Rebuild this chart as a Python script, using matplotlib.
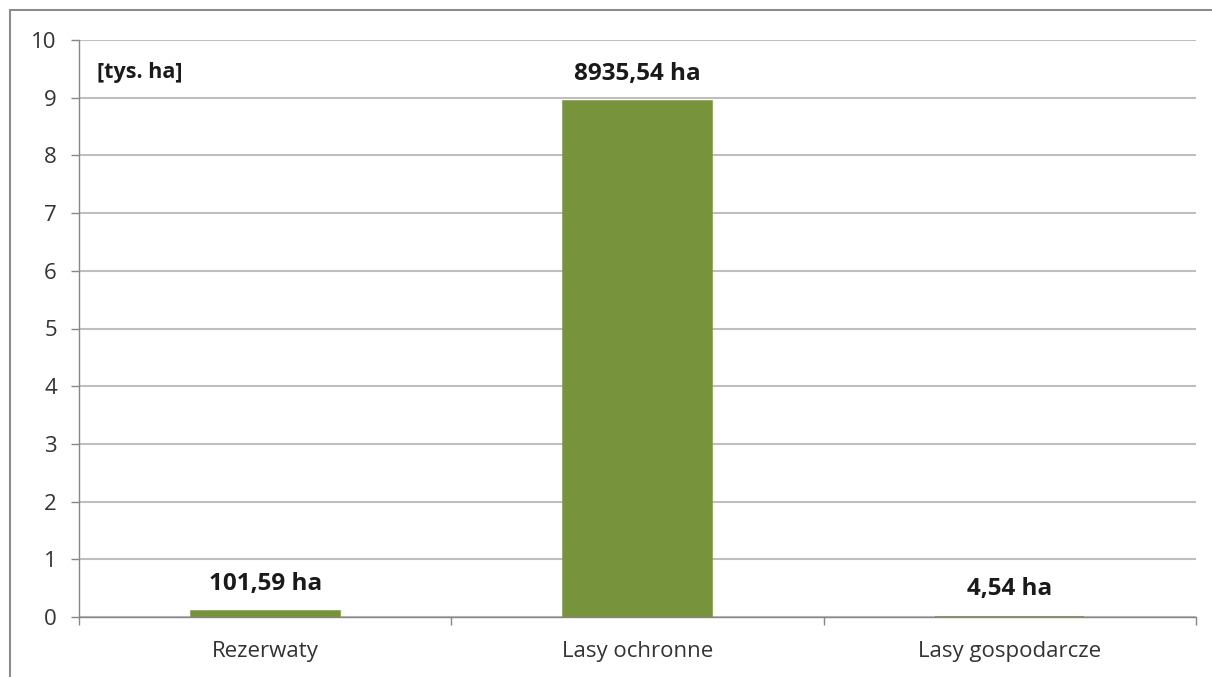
import matplotlib
matplotlib.use("Agg")
import matplotlib.pyplot as plt
import matplotlib.transforms as mtransforms
from matplotlib.patches import Rectangle

plt.rcParams['font.family'] = ['Open Sans', 'DejaVu Sans']

categories = ['Rezerwaty', 'Lasy ochronne', 'Lasy gospodarcze']
values = [0.10159, 8.93554, 0.00454]   # tys. ha
labels = ['101,59 ha', '8935,54 ha', '4,54 ha']
yticks = list(range(0, 11))

fig = plt.figure(figsize=(12.12, 6.77), dpi=100)
ax = fig.add_axes([79/1212, 1-617/677, (1196-79)/1212, (617-40)/677])

# outer frame of the chart area
fig.patches.append(Rectangle((10/1212, -0.05), 1.1, 1-10/677+0.05,
                             transform=fig.transFigure, fill=False,
                             edgecolor='#8c8c8c', linewidth=1.5))

x = list(range(len(categories)))
ax.bar(x, values, width=0.4, color='#77933C', edgecolor='#77933C',
       linewidth=1.1, zorder=3)

for xi, v, lab in zip(x, values, labels):
    ax.annotate(lab, (xi, v), xytext=(0, 11), textcoords='offset points',
                ha='center', va='bottom', fontsize=17.5, fontweight='bold',
                color='#1a1a1a')

ax.set_xlim(-0.5, 2.5)
ax.set_ylim(0, 10)
ax.set_yticks(yticks)
ax.set_xticks(x)
ax.set_xticklabels(categories)
ax.set_xticks([-0.5, 0.5, 1.5, 2.5], minor=True)
ax.tick_params(axis='x', which='major', length=0, pad=17, labelsize=16, labelcolor='#333333')
ax.tick_params(axis='x', which='minor', length=6, color='#868686', width=1)
ax.tick_params(axis='y', length=6, color='#868686', width=1, pad=10, labelsize=16, labelcolor='#333333')

ax.grid(axis='y', color='#bfbfbf', linewidth=1.5, zorder=0)
for s in ['top', 'right']:
    ax.spines[s].set_visible(False)
for s in ['left', 'bottom']:
    ax.spines[s].set_color('#868686')
    ax.spines[s].set_linewidth(1)
    ax.spines[s].set_zorder(2)

trans = mtransforms.blended_transform_factory(ax.transAxes, ax.transData)
ax.text(0.016, 9.43, '[tys. ha]', transform=trans, ha='left', va='center',
        fontsize=15.5, fontweight='bold', color='#1a1a1a')

fig.savefig('out.png', dpi=100)
